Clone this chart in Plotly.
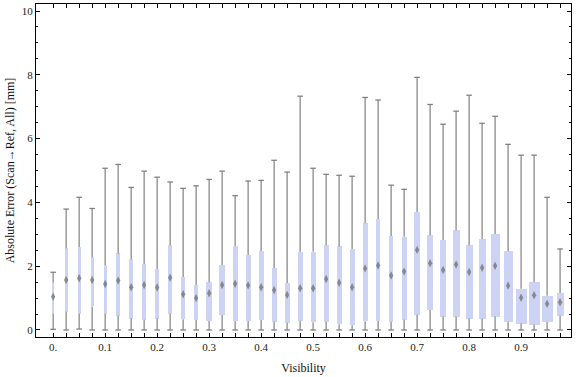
import plotly.graph_objects as go

# ---- data ----
visibility = [round(0.025 * i, 3) for i in range(40)]
whisker_low = [0.02, 0, 0.03, 0, 0, 0, 0, 0, 0, 0,
               0, 0, 0, 0, 0, 0, 0, 0, 0, 0,
               0, 0, 0, 0, 0, 0, 0, 0, 0, 0,
               0, 0, 0, 0, 0, 0, 0, 0, 0, 0]
quartile1 = [0.51, 0.57, 0.51, 0.74, 0.51, 0.45, 0.36, 0.32, 0.36, 0.51,
             0.34, 0.31, 0.28, 0.47, 0.28, 0.28, 0.31, 0.26, 0.23, 0.29,
             0.24, 0.26, 0.18, 0.15, 0.27, 0.28, 0.26, 0.32, 0.48, 0.63,
             0.42, 0.42, 0.36, 0.36, 0.42, 0.26, 0.20, 0.17, 0.25, 0.45]
medians = [1.04, 1.57, 1.62, 1.57, 1.44, 1.55, 1.34, 1.41, 1.33, 1.64,
           1.12, 1.00, 1.15, 1.41, 1.45, 1.40, 1.34, 1.25, 1.10, 1.31,
           1.31, 1.60, 1.48, 1.34, 1.93, 2.02, 1.71, 1.83, 2.51, 2.09,
           1.88, 2.05, 1.82, 1.95, 2.01, 1.39, 1.01, 1.09, 0.82, 0.87]
quartile3 = [1.48, 2.56, 2.60, 2.28, 2.04, 2.40, 2.22, 2.07, 1.91, 2.66,
             1.66, 1.41, 1.50, 2.04, 2.63, 2.35, 2.48, 1.94, 1.47, 2.45,
             2.45, 2.66, 2.62, 2.54, 3.35, 3.48, 2.95, 2.92, 3.70, 2.97,
             2.82, 3.13, 2.66, 2.85, 3.01, 2.48, 1.29, 1.50, 1.07, 1.16]
whisker_high = [1.81, 3.79, 4.16, 3.81, 5.07, 5.19, 4.47, 4.98, 4.79, 4.64,
                4.44, 4.52, 4.72, 4.98, 4.21, 4.67, 4.69, 5.32, 4.95, 7.33,
                5.07, 4.88, 4.85, 4.82, 7.29, 7.21, 4.54, 4.41, 7.92, 7.07,
                6.45, 6.86, 7.36, 6.48, 6.70, 5.82, 5.48, 5.48, 4.16, 2.54]
x_tick_labels = ["0.", "0.1", "0.2", "0.3", "0.4", "0.5", "0.6", "0.7", "0.8", "0.9"]

# ---- styles ----
box_width_px = [1.5, 3, 3, 3.3, 3, 4, 4, 4, 4, 4,
                4, 4, 6, 6, 5, 5, 5, 5, 5, 5,
                5, 5, 5, 5, 5, 4, 4, 5, 6, 6,
                6, 7, 7, 7, 9, 9, 11, 11, 11, 7]
PX_PER_UNIT = 520.0
box_widths = [w / PX_PER_UNIT for w in box_width_px]
BOX_COLOR = "#cdd3f4"
WHISKER = "#808080"
SERIF = "Liberation Serif, Times New Roman, serif"

fig = go.Figure()

# boxes
fig.add_trace(go.Bar(
    x=visibility, base=quartile1,
    y=[q3 - q1 for q1, q3 in zip(quartile1, quartile3)],
    width=box_widths, marker=dict(color=BOX_COLOR, line=dict(width=0)),
    showlegend=False, hoverinfo="skip"))

# whiskers (box edge -> fence)
wx, wy = [], []
for x, lo, q1, q3, hi in zip(visibility, whisker_low, quartile1, quartile3, whisker_high):
    wx += [x, x, None, x, x, None]
    wy += [q3, hi, None, q1, lo, None]
fig.add_trace(go.Scatter(x=wx, y=wy, mode="lines",
                         line=dict(color=WHISKER, width=1.2),
                         showlegend=False, hoverinfo="skip"))

# whisker caps
fig.add_trace(go.Scatter(
    x=visibility + visibility, y=whisker_high + whisker_low, mode="markers",
    marker=dict(symbol="line-ew", size=4, line=dict(color=WHISKER, width=1.3)),
    showlegend=False, hoverinfo="skip"))

# medians
fig.add_trace(go.Scatter(
    x=visibility, y=medians, mode="markers",
    marker=dict(symbol="diamond-tall", size=6, color="#7a7a7a", opacity=0.85,
                line=dict(width=0)),
    showlegend=False, hoverinfo="skip"))

tickvals = visibility
ticktext = [x_tick_labels[i // 4] if i % 4 == 0 else "" for i in range(len(visibility))]

fig.update_layout(
    width=576, height=377,
    margin=dict(l=36, r=5, t=4, b=40),
    paper_bgcolor="white", plot_bgcolor="white",
    font=dict(family=SERIF, size=11, color="#222"),
    bargap=0,
    xaxis=dict(range=[-0.033, 0.996], tickvals=tickvals, ticktext=ticktext,
               ticks="inside", ticklen=4, tickwidth=1, tickcolor="black",
               showline=True, linecolor="black", linewidth=1, mirror="ticks",
               showgrid=False, zeroline=False, automargin=False,
               tickfont=dict(family=SERIF, size=11, color="#222"),
               title=dict(text="Visibility", font=dict(family=SERIF, size=12, color="#111"),
                          standoff=11)),
    yaxis=dict(range=[-0.22, 10.22], tickvals=[0, 2, 4, 6, 8, 10],
               ticks="inside", ticklen=4, tickwidth=1, tickcolor="black",
               minor=dict(dtick=0.5, tick0=0, ticks="inside", ticklen=2,
                          tickcolor="black", showgrid=False),
               showline=True, linecolor="black", linewidth=1, mirror="ticks",
               showgrid=False, zeroline=False, automargin=False,
               tickfont=dict(family=SERIF, size=11, color="#222"),
               title=dict(text="Absolute Error (Scan\u2192Ref, All) [mm]",
                          font=dict(family=SERIF, size=12, color="#111"),
                          standoff=4)),
)

fig.write_html("out.html", config={"displayModeBar": False},
               post_script="document.body.style.margin='0px';document.body.style.padding='0px';")
